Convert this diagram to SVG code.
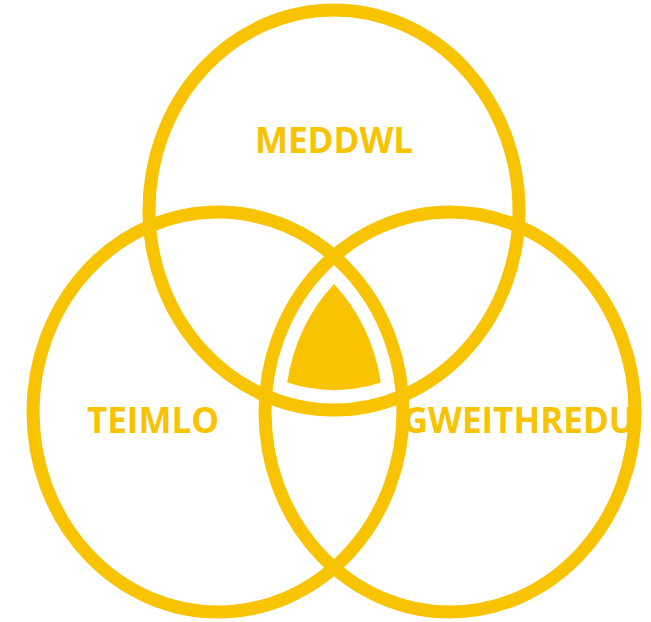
<svg xmlns="http://www.w3.org/2000/svg" width="651" height="622" viewBox="0 0 651 622">
  <style>
    .ring { fill: none; stroke: #F8C300; stroke-width: 13; }
    .core { fill: #F8C300; stroke: none; }
    .label { fill: #F8C300; font-family: "Open Sans", "Noto Sans", "Liberation Sans", sans-serif; font-weight: bold; font-size: 35px; text-anchor: middle; }
  </style>
  <rect width="651" height="622" fill="#ffffff"/>
  <g id="meddwl">
    <ellipse class="ring" cx="334" cy="210" rx="185" ry="200"/>
    <text class="label" x="334" y="153">MEDDWL</text>
  </g>
  <g id="teimlo">
    <ellipse class="ring" cx="218" cy="412" rx="185" ry="200"/>
    <text class="label" x="153" y="433">TEIMLO</text>
  </g>
  <g id="gweithredu">
    <ellipse class="ring" cx="450" cy="412" rx="185" ry="200"/>
    <text class="label" x="519" y="433">GWEITHREDU</text>
  </g>
  <g id="centre">
    <path class="core" d="M 334 284 A 165 180 0 0 1 380.8 382.6 A 165 180 0 0 1 287.2 382.6 A 165 180 0 0 1 334 284 Z"/>
  </g>
  <g id="connectors"></g>
</svg>
